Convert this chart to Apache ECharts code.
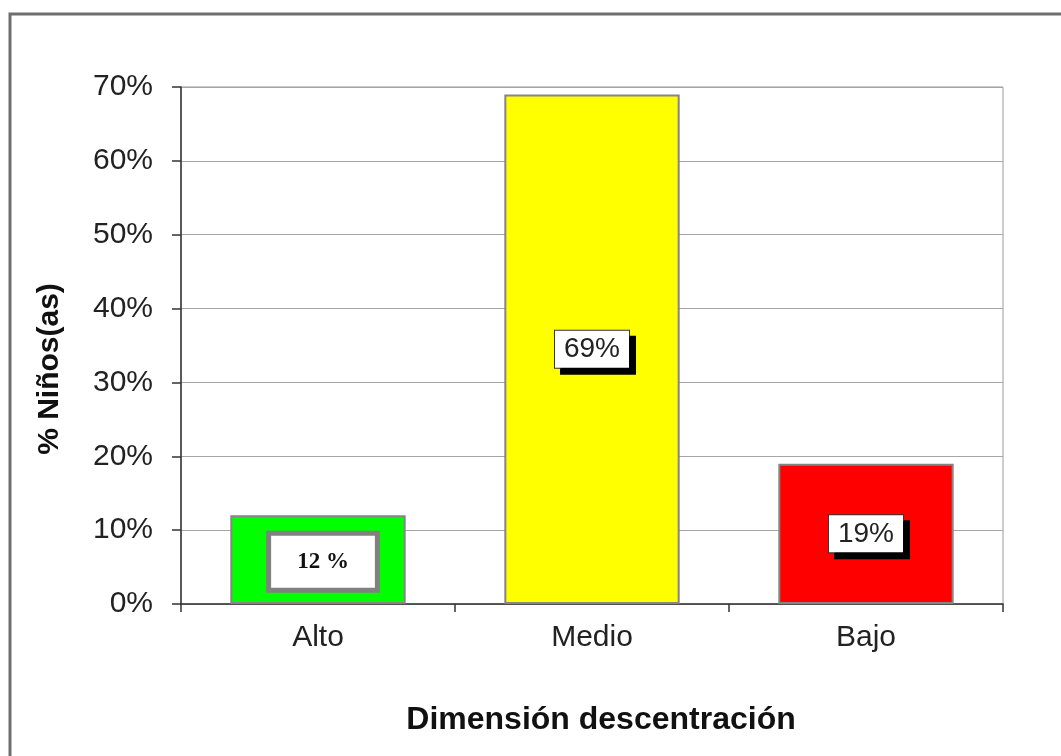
<!DOCTYPE html>
<html>
<head>
<meta charset="utf-8">
<title>Dimensión descentración</title>
<script src="https://cdn.jsdelivr.net/npm/echarts@6/dist/echarts.min.js"></script>
<style>
  html, body { margin: 0; padding: 0; background: #fff; }
  #chart { width: 1061px; height: 756px; }
</style>
</head>
<body>
<div id="chart"></div>
<script>
// Categories, values (% of children) and colours per level
const categories = ['Alto', 'Medio', 'Bajo'];
const values = [12, 69, 19];
const barColors = ['#00ff00', '#ffff00', '#ff0000'];
const yTicks = [0, 10, 20, 30, 40, 50, 60, 70];

const chart = echarts.init(document.getElementById('chart'));

// Default boxed label with a hard drop shadow
const shadowLabel = {
  show: true,
  position: 'inside',
  formatter: p => p.value + '%',
  fontFamily: 'Arial, "Liberation Sans", sans-serif',
  fontSize: 28,
  color: '#222',
  backgroundColor: '#ffffff',
  borderColor: '#333',
  borderWidth: 1,
  padding: [5, 9, 4, 9],
  shadowColor: '#000',
  shadowBlur: 0,
  shadowOffsetX: 6,
  shadowOffsetY: 6
};

const seriesData = values.map((v, i) => {
  const item = { value: v, itemStyle: { color: barColors[i] } };
  if (i === 0) {
    // first label uses a thick grey frame and a serif face
    item.label = {
      formatter: p => p.value + ' %',
      fontFamily: '"Liberation Serif", "DejaVu Serif", serif',
      fontWeight: 'bold',
      fontSize: 23,
      color: '#111',
      borderColor: '#808080',
      borderWidth: 5,
      padding: [15, 26, 14, 26],
      shadowOffsetX: 0,
      shadowOffsetY: 0,
      shadowColor: 'transparent',
      offset: [5, 2]
    };
  }
  return item;
});

chart.setOption({
  animation: false,
  backgroundColor: '#ffffff',
  grid: {
    left: 181, right: 58, top: 87, bottom: 152,
    show: true, borderColor: '#9a9a9a', borderWidth: 1, backgroundColor: 'transparent'
  },
  xAxis: {
    type: 'category',
    data: categories,
    name: 'Dimensión descentración',
    nameLocation: 'middle',
    nameGap: 100,
    nameTextStyle: {
      fontFamily: 'Arial, "Liberation Sans", sans-serif',
      fontSize: 32, fontWeight: 'bold', color: '#111',
      padding: [0, 0, 0, 18]
    },
    axisLine: { show: true, lineStyle: { color: '#333', width: 1.5 } },
    axisTick: { show: true, length: 8, lineStyle: { color: '#333', width: 1.5 } },
    axisLabel: {
      margin: 19,
      fontFamily: 'Arial, "Liberation Sans", sans-serif',
      fontSize: 30, color: '#222'
    }
  },
  yAxis: {
    type: 'value',
    min: 0, max: 70, interval: 10,
    axisLine: { show: true, lineStyle: { color: '#333', width: 1.5 } },
    axisTick: { show: true, length: 9, lineStyle: { color: '#333', width: 1.5 } },
    axisLabel: {
      margin: 28,
      formatter: v => (yTicks.includes(v) ? v + '%' : ''),
      fontFamily: 'Arial, "Liberation Sans", sans-serif',
      fontSize: 30, color: '#222'
    },
    splitLine: { show: true, lineStyle: { color: '#a6a6a6', width: 1 } }
  },
  graphic: [
    {
      type: 'rect',
      silent: true,
      shape: { x: 10, y: 14, width: 1100, height: 800 },
      style: { fill: 'none', stroke: '#6e6e6e', lineWidth: 3 }
    },
    {
      type: 'text',
      silent: true,
      x: 50, y: 369,
      rotation: Math.PI / 2,
      style: {
        text: '% Niños(as)',
        fontFamily: 'Arial, "Liberation Sans", sans-serif',
        fontSize: 30, fontWeight: 'bold', fill: '#111',
        align: 'center', verticalAlign: 'middle'
      }
    }
  ],
  series: [{
    type: 'bar',
    data: seriesData,
    barWidth: '64%',
    itemStyle: { borderColor: '#858585', borderWidth: 2 },
    label: shadowLabel
  }]
});
</script>
</body>
</html>
